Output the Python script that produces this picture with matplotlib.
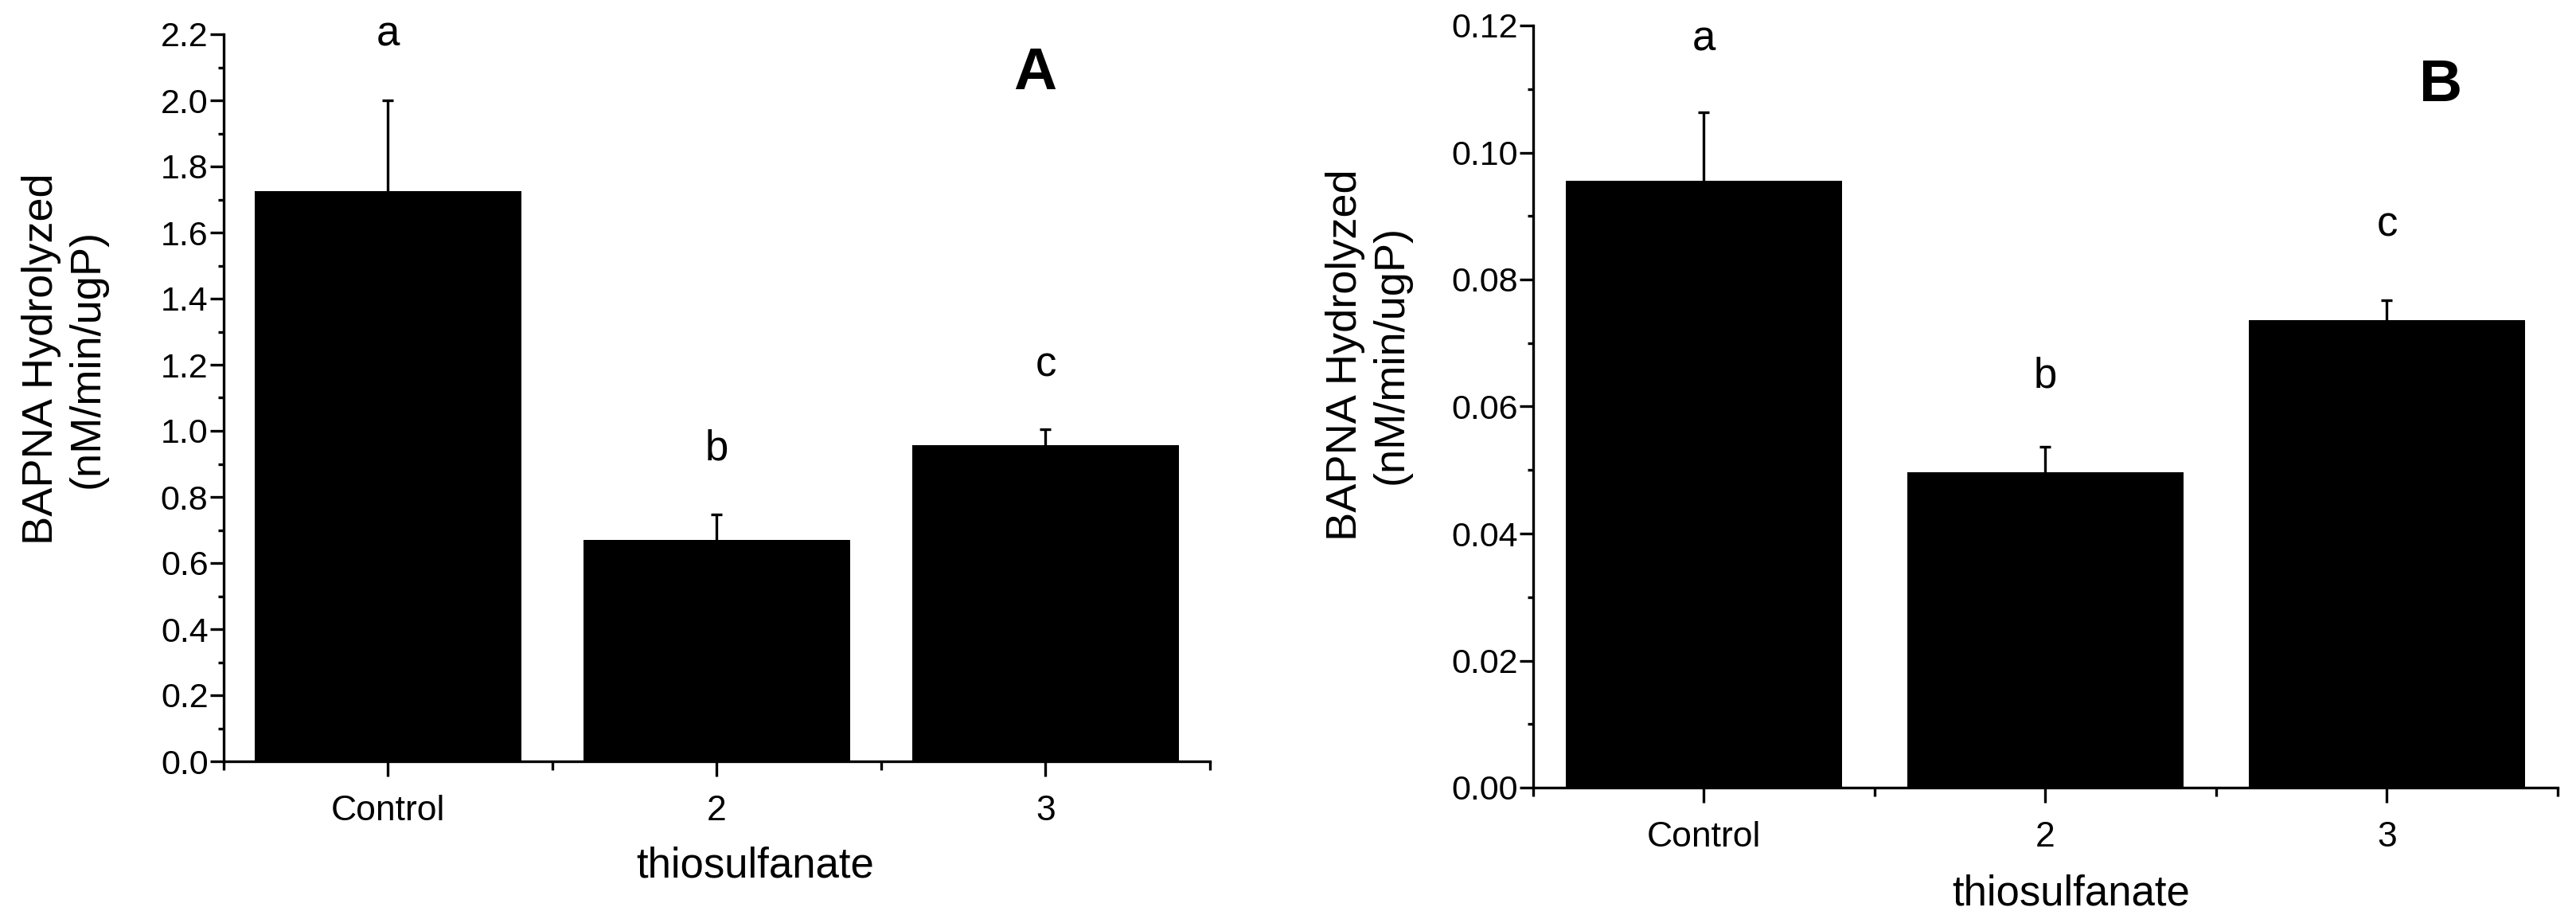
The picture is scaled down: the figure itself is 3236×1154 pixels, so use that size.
import numpy as np
import matplotlib
matplotlib.use("Agg")
import matplotlib.pyplot as plt
from matplotlib.ticker import MultipleLocator, FixedLocator, FormatStrFormatter

plt.rcParams['font.family'] = ['Liberation Sans', 'DejaVu Sans']

groups = ["Control", "2", "3"]

# panel A
a_means = [1.725, 0.670, 0.957]
a_err = [0.275, 0.077, 0.048]
a_letters = ["a", "b", "c"]
a_letter_y = [2.164, 0.913, 1.166]

# panel B
b_means = [0.0956, 0.0497, 0.0736]
b_err = [0.0107, 0.0040, 0.0031]
b_letters = ["a", "b", "c"]
b_letter_y = [0.1161, 0.0630, 0.0868]

ylab = "BAPNA Hydrolyzed\n(nM/min/ugP)"
xlab = "thiosulfanate"

fig = plt.figure(figsize=(32.37, 11.54), dpi=100)
axA = fig.add_axes([281/3237, 1 - 956/1154, 1239/3237, 913/1154])
axB = fig.add_axes([1926/3237, 1 - 989/1154, 1287/3237, 957/1154])


def draw(ax, means, errs, letters, letter_y, ymax, ystep, fmt, panel, panel_xy,
         ylab_xy, xlab_xy):
	x = np.arange(len(groups))
	# error bars sit behind the bars so only the upper half shows
	ax.errorbar(x, means, yerr=errs, fmt="none", ecolor="black",
	            elinewidth=2.4, capthick=2.4, capsize=5, zorder=1)
	ax.bar(x, means, width=0.81, color="black", zorder=2)
	for xi, l, ly in zip(x, letters, letter_y):
		ax.text(xi, ly, l, ha="center", va="baseline", fontsize=38)
	ax.text(panel_xy[0], panel_xy[1], panel, ha="center", va="baseline",
	        fontsize=54, fontweight="bold")

	ax.set_xlim(-0.5, 2.5)
	ax.set_ylim(0, ymax)
	ax.set_xticks(x)
	ax.set_xticklabels(groups)
	ax.xaxis.set_minor_locator(FixedLocator([-0.5, 0.5, 1.5, 2.5]))
	ax.yaxis.set_major_locator(MultipleLocator(ystep))
	ax.yaxis.set_minor_locator(MultipleLocator(ystep / 2))
	ax.yaxis.set_major_formatter(FormatStrFormatter(fmt))

	for s in ["top", "right"]:
		ax.spines[s].set_visible(False)
	for s in ["left", "bottom"]:
		ax.spines[s].set_linewidth(2.4)
		ax.spines[s].set_zorder(3)

	ax.tick_params(axis="y", which="major", length=12, width=2.4, pad=2, labelsize=31)
	ax.tick_params(axis="y", which="minor", length=5, width=2.4)
	ax.tick_params(axis="x", which="major", length=14, width=2.4, pad=16, labelsize=32)
	ax.tick_params(axis="x", which="minor", length=8, width=2.4)

	ax.set_ylabel(ylab, fontsize=39)
	ax.yaxis.set_label_coords(*ylab_xy)
	ax.set_xlabel(xlab, fontsize=38)
	ax.xaxis.set_label_coords(*xlab_xy)


draw(axA, a_means, a_err, a_letters, a_letter_y, 2.2, 0.2, "%.1f", "A",
     (1.967, 2.034), (-0.118, 0.554), (0.539, -0.117))
draw(axB, b_means, b_err, b_letters, b_letter_y, 0.12, 0.02, "%.2f", "B",
     (2.157, 0.1081), (-0.119, 0.568), (0.525, -0.113))

fig.savefig("out.png", dpi=100)
